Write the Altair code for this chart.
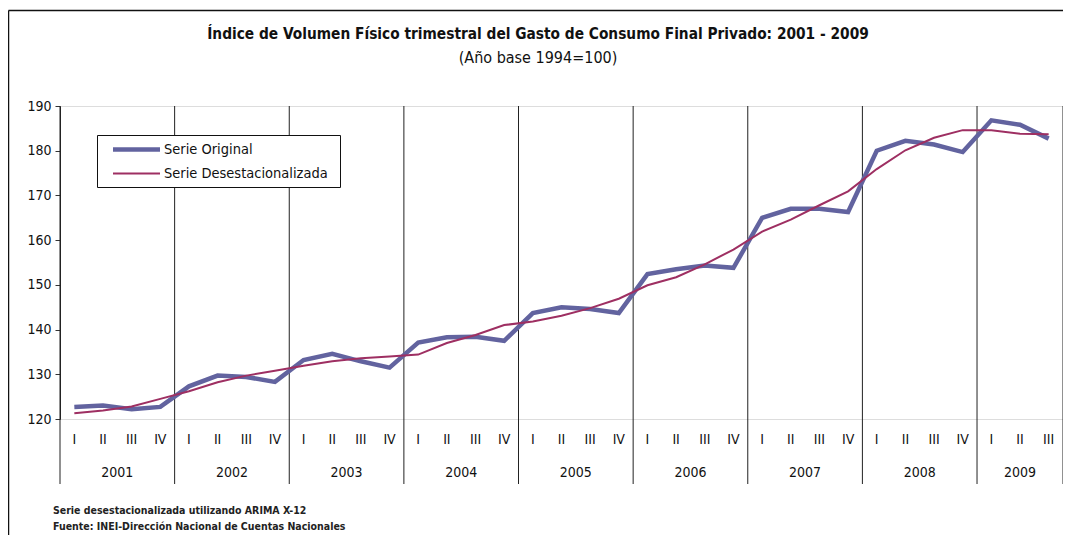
import altair as alt
import pandas as pd

# ---- data ----
quarter_labels = ["I", "II", "III", "IV"] * 8 + ["I", "II", "III"]
years = ["2001", "2002", "2003", "2004", "2005", "2006", "2007", "2008", "2009"]
year_quarters = [4, 4, 4, 4, 4, 4, 4, 4, 3]

serie_original = [122.7, 123.0, 122.2, 122.7,
                  127.3, 129.7, 129.4, 128.3,
                  133.2, 134.6, 132.9, 131.5,
                  137.1, 138.3, 138.4, 137.5,
                  143.7, 145.0, 144.6, 143.7,
                  152.4, 153.5, 154.3, 153.8,
                  165.0, 167.0, 167.0, 166.3,
                  180.0, 182.2, 181.4, 179.7,
                  186.8, 185.8, 182.7]

serie_desest = [121.3, 121.9, 122.8, 124.5,
                126.2, 128.2, 129.7, 130.8,
                131.9, 132.9, 133.6, 134.0,
                134.4, 137.0, 138.8, 141.0,
                141.8, 143.1, 144.8, 146.9,
                149.9, 151.7, 154.6, 157.9,
                161.9, 164.6, 167.8, 170.9,
                175.9, 180.1, 182.9, 184.6,
                184.6, 183.8, 183.7]

legend_labels = ["Serie Original", "Serie Desestacionalizada"]
notes = ["Serie desestacionalizada utilizando ARIMA X-12",
         "Fuente: INEI-Dirección Nacional de Cuentas Nacionales"]
title_text = "Índice de Volumen Físico trimestral del Gasto de Consumo Final Privado: 2001 - 2009"
subtitle_text = "(Año base 1994=100)"

# ---- tables ----
n = len(quarter_labels)
pos = [i + 0.5 for i in range(n)]
df_orig = pd.DataFrame({"pos": pos, "valor": serie_original, "q": quarter_labels})
df_des = pd.DataFrame({"pos": pos, "valor": serie_desest})

bounds = [0]
for c in year_quarters:
    bounds.append(bounds[-1] + c)
df_bounds = pd.DataFrame({"b": bounds})
df_years = pd.DataFrame({"year": years,
                         "mid": [(bounds[i] + bounds[i + 1]) / 2 for i in range(len(years))]})

FONT = "Liberation Sans Narrow, Arial Narrow, DejaVu Sans Condensed, sans-serif"
C_ORIG = "#62639F"
C_DES = "#9E2F62"
W, H = 1003, 313

xscale = alt.Scale(domain=[0, n], nice=False, zero=False)
yscale = alt.Scale(domain=[120, 190], nice=False, zero=False)
X = alt.X("pos:Q", scale=xscale, axis=None)


def txt(s, x, y, size, weight="normal", align="center", color="#111111"):
    return alt.Chart(pd.DataFrame({"t": [s]})).mark_text(
        font=FONT, fontSize=size, fontWeight=weight, color=color, align=align,
        baseline="middle").encode(x=alt.value(x), y=alt.value(y), text="t:N")


seps = alt.Chart(df_bounds).mark_rule(color="#222222", strokeWidth=1).encode(
    x=alt.X("b:Q", scale=xscale, axis=None),
    y=alt.value(0), y2=alt.value(H + 65))

line_o = alt.Chart(df_orig).mark_line(color=C_ORIG, strokeWidth=4.5).encode(
    x=X,
    y=alt.Y("valor:Q", scale=yscale,
            axis=alt.Axis(values=[120, 130, 140, 150, 160, 170, 180, 190], grid=False,
                          title=None, labelFont=FONT, labelFontSize=14, labelColor="#111111",
                          tickSize=5, tickColor="#333333", domainColor="#222222",
                          labelPadding=4)))

line_d = alt.Chart(df_des).mark_line(color=C_DES, strokeWidth=2).encode(
    x=X, y=alt.Y("valor:Q", scale=yscale))

q_text = alt.Chart(df_orig).mark_text(font=FONT, fontSize=14, color="#111111",
                                      baseline="middle").encode(
    x=X, y=alt.value(H + 21), text="q:N")

y_text = alt.Chart(df_years).mark_text(font=FONT, fontSize=14, color="#111111",
                                       baseline="middle").encode(
    x=alt.X("mid:Q", scale=xscale, axis=None), y=alt.value(H + 54), text="year:N")

# legend (framed box at upper left, as in the reference)
one = pd.DataFrame({"k": [0]})
leg_box = alt.Chart(one).mark_rect(fill="white", stroke="#111111", strokeWidth=1).encode(
    x=alt.value(37.5), x2=alt.value(280.5), y=alt.value(29.5), y2=alt.value(81.5))
leg_l1 = alt.Chart(one).mark_rule(color=C_ORIG, strokeWidth=4.5).encode(
    x=alt.value(53), x2=alt.value(100), y=alt.value(43.5))
leg_l2 = alt.Chart(one).mark_rule(color=C_DES, strokeWidth=2).encode(
    x=alt.value(53), x2=alt.value(100), y=alt.value(67.5))
leg_t1 = txt(legend_labels[0], 104, 43.5, 14.5, align="left")
leg_t2 = txt(legend_labels[1], 104, 67.5, 14.5, align="left")

note1 = txt(notes[0], -7, H + 92, 10.5, weight="bold", align="left", color="#222222")
note2 = txt(notes[1], -7, H + 108, 10.5, weight="bold", align="left", color="#222222")

title1 = txt(title_text, 478, -72, 15.3, weight="bold")
title2 = txt(subtitle_text, 478, -48, 16)

frame_top = alt.Chart(one).mark_rule(color="#111111", strokeWidth=1.5).encode(
    x=alt.value(-51.5), x2=alt.value(W), y=alt.value(-95.5))
frame_left = alt.Chart(one).mark_rule(color="#111111", strokeWidth=1.5).encode(
    x=alt.value(-51.5), y=alt.value(-95.5), y2=alt.value(H + 125))

chart = alt.layer(
    frame_top, frame_left, title1, title2, seps, line_o, line_d, q_text, y_text,
    leg_box, leg_l1, leg_l2, leg_t1, leg_t2, note1, note2
).properties(
    width=W, height=H,
    autosize=alt.AutoSizeParams(type="none"),
    padding={"left": 52, "top": 98, "right": 0, "bottom": 118},
).configure_view(stroke="#555555", strokeWidth=1
).configure(background="white")

chart.save("out.html", embed_options={"renderer": "svg", "actions": False})
